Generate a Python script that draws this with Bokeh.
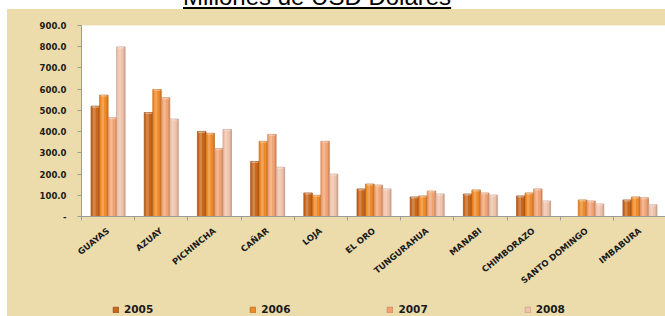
from bokeh.plotting import figure
from bokeh.models import (Range1d, FixedTicker, Legend, LegendItem, Div, Spacer,
                          PrintfTickFormatter, ColumnDataSource)
from bokeh.layouts import column, row
from bokeh.transform import dodge
from bokeh.embed import file_html
from bokeh.resources import INLINE

# ---------------- data ----------------
title_text = "Millones de USD Dolares"
provincias = ["GUAYAS", "AZUAY", "PICHINCHA", "CAÑAR", "LOJA", "EL ORO",
              "TUNGURAHUA", "MANABI", "CHIMBORAZO", "SANTO DOMINGO", "IMBABURA"]
years = ["2005", "2006", "2007", "2008"]
v2005 = [520, 490, 401, 259, 111, 130, 92, 106, 97, 0, 78]
v2006 = [572, 598, 392, 354, 100, 153, 97, 125, 111, 78, 92]
v2007 = [465, 560, 320, 387, 354, 148, 120, 111, 130, 73, 88]
v2008 = [799, 459, 410, 232, 200, 130, 106, 101, 73, 59, 55]
y_ticks = [0, 100, 200, 300, 400, 500, 600, 700, 800, 900]

# ---------------- styling ----------------
colors = ["#C8661C", "#EF8A28", "#F1A372", "#EFC2AA"]
edges = ["#96480F", "#BF6818", "#C98058", "#C49A88"]
parchment = "#ECDCAB"
font = "DejaVu Sans"
cap_depth = 7  # depth of the light cap drawn at each bar's top (value units)

pos = [i + 0.5 for i in range(len(provincias))]
series = {"v2005": v2005, "v2006": v2006, "v2007": v2007, "v2008": v2008}
data = dict(pos=pos, **series)
for k, vals in series.items():
    data[k + "_cap"] = [v - cap_depth for v in vals]
src = ColumnDataSource(data)

p = figure(width=658, height=283, output_backend="svg", toolbar_location=None,
           x_range=Range1d(0, 10.98), y_range=Range1d(0, 900),
           min_border_left=74, min_border_right=0, min_border_top=16,
           min_border_bottom=74, margin=0,
           styles={"background-color": parchment})
p.background_fill_color = "white"
p.border_fill_color = parchment
p.outline_line_color = None
p.xgrid.visible = False
p.ygrid.visible = False

offsets = [-0.24, -0.08, 0.08, 0.24]
cols = ["v2005", "v2006", "v2007", "v2008"]
for col, off, c, e in zip(cols, offsets, colors, edges):
    p.vbar(x=dodge("pos", off, range=p.x_range), top=col, width=0.16,
           source=src, fill_color=c, line_color=e, line_width=0.7)
    # cylinder-like shading
    p.vbar(x=dodge("pos", off - 0.02, range=p.x_range), top=col, width=0.05,
           source=src, fill_color="white", fill_alpha=0.22, line_color=None)
    p.vbar(x=dodge("pos", off + 0.065, range=p.x_range), top=col, width=0.03,
           source=src, fill_color="black", fill_alpha=0.10, line_color=None)
    # light cap on top
    p.vbar(x=dodge("pos", off, range=p.x_range), top=col, bottom=col + "_cap",
           width=0.13, source=src, fill_color="white", fill_alpha=0.35,
           line_color=None)

# y axis
ya = p.yaxis[0]
ya.ticker = FixedTicker(ticks=y_ticks)
ya.formatter = PrintfTickFormatter(format="%.1f")
ya.major_label_overrides = {0: "-"}
ya.major_tick_out = 4
ya.major_tick_in = 0
ya.minor_tick_out = 0
ya.major_label_standoff = 11
ya.axis_line_color = "#9A9A9A"
ya.major_tick_line_color = "#9A9A9A"
ya.major_label_text_font = font
ya.major_label_text_font_style = "bold"
ya.major_label_text_font_size = "8.5px"
ya.major_label_text_color = "#1A1A1A"

# x axis
xa = p.xaxis[0]
xa.ticker = FixedTicker(ticks=pos, minor_ticks=list(range(len(provincias) + 1)))
xa.major_label_overrides = {x: name for x, name in zip(pos, provincias)}
xa.major_label_orientation = 0.68
xa.major_tick_out = 0
xa.major_tick_in = 0
xa.minor_tick_out = 4
xa.minor_tick_in = 0
xa.major_label_standoff = 9
xa.axis_line_color = "#9A9A9A"
xa.minor_tick_line_color = "#9A9A9A"
xa.major_label_text_font = font
xa.major_label_text_font_style = "bold"
xa.major_label_text_font_size = "8.5px"
xa.major_label_text_color = "#1A1A1A"

# legend strip (same parchment background, continues the chart area);
# its renderers reuse the series data but fall outside this strip's ranges
pl = figure(width=658, height=24, output_backend="svg", toolbar_location=None,
            x_range=Range1d(-2, -1), y_range=Range1d(-2, -1),
            x_axis_location=None, y_axis_location=None, min_border=0, margin=0,
            styles={"background-color": parchment})
pl.background_fill_color = parchment
pl.border_fill_color = parchment
pl.outline_line_color = None
pl.xgrid.visible = False
pl.ygrid.visible = False
items = []
for yr, col, c, e in zip(years, cols, colors, edges):
    r = pl.vbar(x="pos", top=col, width=0.01, source=src,
                fill_color=c, line_color=e, line_width=0.7)
    items.append(LegendItem(label=yr, renderers=[r]))

legend = Legend(items=items, orientation="horizontal", location=(105, 1),
                padding=0, margin=0, spacing=96, glyph_width=7, glyph_height=7,
                label_standoff=5, label_width=29, label_height=11,
                label_text_font=font, label_text_font_style="bold",
                label_text_font_size="10.5px", label_text_color="#1A1A1A",
                background_fill_alpha=0, border_line_color=None)
pl.add_layout(legend)

title = Div(text=('<div style="position:absolute; left:183px; top:-15px; '
                  'font-family:\'Liberation Sans\', Arial; font-size:24px; '
                  'line-height:24px; text-decoration:underline; white-space:nowrap; '
                  'color:black;">' + title_text + '</div>'),
            width=665, height=9, margin=0,
            styles={"overflow": "hidden", "height": "9px"})

layout = column(title,
                row(Spacer(width=7, height=283, margin=0), p, spacing=0, margin=0),
                row(Spacer(width=7, height=24, margin=0), pl, spacing=0, margin=0),
                spacing=0, margin=0)

open("out.html", "w").write(file_html(layout, INLINE))
